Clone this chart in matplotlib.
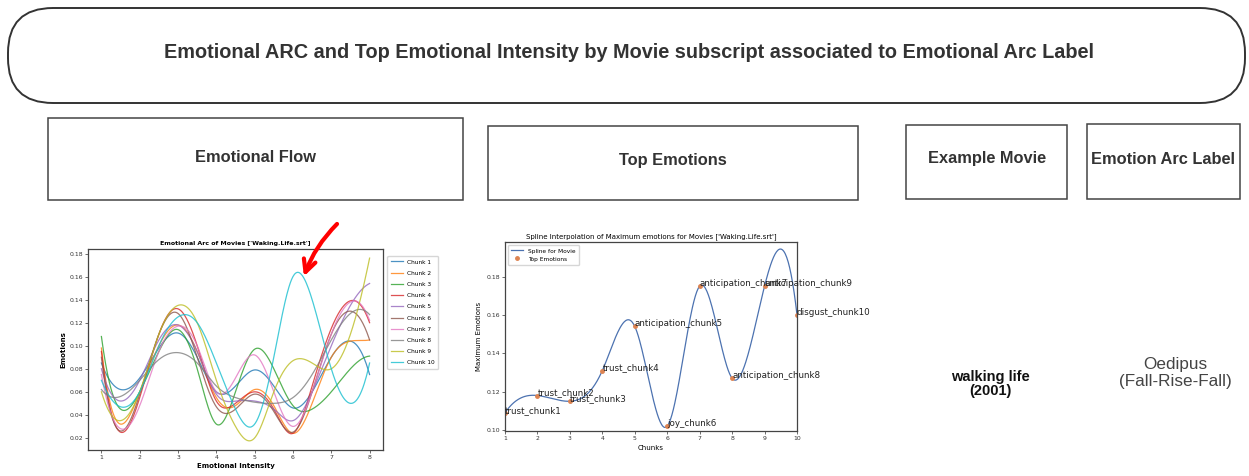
import numpy as np
import matplotlib.pyplot as plt
from matplotlib.patches import FancyBboxPatch, Rectangle

# ---- data: emotional arc per chunk, read at half steps of intensity ----
intensity = np.arange(1, 8.5, 0.5)
chunk_labels = [f"Chunk {i}" for i in range(1, 11)]
chunk1 = [0.085, 0.062, 0.072, 0.098, 0.111, 0.090, 0.060, 0.065, 0.079, 0.065, 0.046, 0.060, 0.090, 0.104, 0.075]
chunk2 = [0.098, 0.032, 0.060, 0.100, 0.118, 0.095, 0.055, 0.048, 0.062, 0.048, 0.024, 0.050, 0.090, 0.104, 0.105]
chunk3 = [0.108, 0.045, 0.060, 0.095, 0.114, 0.080, 0.032, 0.060, 0.097, 0.080, 0.048, 0.045, 0.060, 0.080, 0.091]
chunk4 = [0.095, 0.025, 0.055, 0.110, 0.132, 0.100, 0.052, 0.050, 0.060, 0.045, 0.024, 0.065, 0.115, 0.139, 0.120]
chunk5 = [0.080, 0.052, 0.070, 0.105, 0.118, 0.095, 0.058, 0.052, 0.052, 0.045, 0.035, 0.060, 0.100, 0.135, 0.154]
chunk6 = [0.090, 0.026, 0.058, 0.110, 0.128, 0.090, 0.047, 0.045, 0.058, 0.043, 0.025, 0.060, 0.110, 0.130, 0.105]
chunk7 = [0.075, 0.028, 0.048, 0.095, 0.117, 0.100, 0.060, 0.072, 0.092, 0.060, 0.030, 0.060, 0.110, 0.138, 0.122]
chunk8 = [0.062, 0.056, 0.070, 0.088, 0.094, 0.085, 0.065, 0.055, 0.051, 0.050, 0.055, 0.075, 0.105, 0.128, 0.127]
chunk9 = [0.060, 0.035, 0.060, 0.110, 0.135, 0.120, 0.070, 0.030, 0.020, 0.060, 0.087, 0.085, 0.080, 0.110, 0.176]
chunk10 = [0.070, 0.047, 0.060, 0.100, 0.125, 0.120, 0.085, 0.045, 0.032, 0.090, 0.160, 0.140, 0.080, 0.050, 0.085]
arcs = [chunk1, chunk2, chunk3, chunk4, chunk5, chunk6, chunk7, chunk8, chunk9, chunk10]

# ---- data: top emotion per chunk ----
chunks = np.arange(1, 11)
top_values = [0.109, 0.118, 0.115, 0.131, 0.154, 0.102, 0.175, 0.127, 0.175, 0.160]
top_names = ['trust', 'trust', 'trust', 'trust', 'anticipation', 'joy',
             'anticipation', 'anticipation', 'anticipation', 'disgust']

W, H = 1249, 476


def spline(x, y, num=400):
    # cubic spline with not-a-knot ends (like scipy make_interp_spline)
    x = np.asarray(x, float)
    y = np.asarray(y, float)
    n = len(x)
    h = np.diff(x)
    A = np.zeros((n, n))
    b = np.zeros(n)
    A[0, :3] = [h[1], -(h[0] + h[1]), h[0]]
    A[-1, -3:] = [h[-1], -(h[-2] + h[-1]), h[-2]]
    for i in range(1, n - 1):
        A[i, i - 1:i + 2] = [h[i - 1], 2 * (h[i - 1] + h[i]), h[i]]
        b[i] = 6 * ((y[i + 1] - y[i]) / h[i] - (y[i] - y[i - 1]) / h[i - 1])
    M = np.linalg.solve(A, b)
    xs = np.linspace(x[0], x[-1], num)
    k = np.clip(np.searchsorted(x, xs) - 1, 0, n - 2)
    x0, x1, hk = x[k], x[k + 1], h[k]
    ys = (M[k] * (x1 - xs) ** 3 + M[k + 1] * (xs - x0) ** 3) / (6 * hk) \
        + (y[k] / hk - M[k] * hk / 6) * (x1 - xs) \
        + (y[k + 1] / hk - M[k + 1] * hk / 6) * (xs - x0)
    return xs, ys


def px_axes(fig, x0, y0, x1, y1):
    return fig.add_axes([x0 / W, 1 - y1 / H, (x1 - x0) / W, (y1 - y0) / H])


fig = plt.figure(figsize=(W / 100, H / 100), dpi=100)

# ---- left plot: emotional arc ----
ax1 = px_axes(fig, 88, 249, 383, 450)
for vals, lab in zip(arcs, chunk_labels):
    xs, ys = spline(intensity, vals)
    ax1.plot(xs, ys, lw=0.9, alpha=0.8, label=lab)
ax1.set_title("Emotional Arc of Movies ['Waking.Life.srt']", fontsize=4.5, fontweight='bold', pad=3)
ax1.set_xlabel('Emotional Intensity', fontsize=5, fontweight='bold', labelpad=2)
ax1.set_ylabel('Emotions', fontsize=5, fontweight='bold', labelpad=2)
ax1.set_xticks(range(1, 9))
ax1.set_yticks(np.arange(0.02, 0.181, 0.02))
ax1.tick_params(labelsize=4.4, length=2, width=0.5, pad=1.5, colors='#333333')
for s in ax1.spines.values():
    s.set_color('#444444')
    s.set_linewidth(0.9)
ax1.legend(loc='upper left', bbox_to_anchor=(1.005, 0.98), fontsize=4.2, frameon=True,
           handlelength=2, borderpad=0.6, labelspacing=1.05)

# ---- middle plot: top emotions ----
ax2 = px_axes(fig, 505, 242, 797, 431)
xs, ys = spline(chunks, top_values)
ax2.plot(xs, ys, lw=0.9, color='#4c72b0', label='Spline for Movie')
ax2.plot(chunks, top_values, 'o', ms=2.5, color='#dd8452', label='Top Emotions')
for c, v, name in zip(chunks, top_values, top_names):
    ax2.annotate(f"{name}_chunk{c}", (c, v), fontsize=6.3, color='#222222', zorder=5)
ax2.set_xlim(1, 10)
ax2.set_ylim(0.0995, 0.198)
ax2.set_xticks(range(1, 11))
ax2.set_yticks(np.arange(0.10, 0.181, 0.02))
ax2.set_title("Spline Interpolation of Maximum emotions for Movies ['Waking.Life.srt']", fontsize=5, pad=3)
ax2.set_xlabel('Chunks', fontsize=5, labelpad=3)
ax2.set_ylabel('Maximum Emotions', fontsize=5, labelpad=3)
ax2.tick_params(labelsize=4.4, length=2, width=0.5, pad=1.5, colors='#333333')
for s in ax2.spines.values():
    s.set_color('#444444')
    s.set_linewidth(0.9)
ax2.legend(loc='upper left', fontsize=4.2, frameon=True, handlelength=2, borderpad=0.6)

# ---- overlay: boxes, headings, notes ----
ov = fig.add_axes([0, 0, 1, 1], zorder=10)
ov.set_xlim(0, W)
ov.set_ylim(H, 0)
ov.axis('off')

font = ['Liberation Sans', 'DejaVu Sans']
head_color = '#333333'

ov.add_patch(FancyBboxPatch((8, 8), 1237, 95, boxstyle='round,pad=0,rounding_size=45',
                            fc='none', ec='#333333', lw=1.4))
ov.text(629, 52, 'Emotional ARC and Top Emotional Intensity by Movie subscript associated to Emotional Arc Label',
        ha='center', va='center', fontsize=14.3, fontweight='bold', family=font, color=head_color)

boxes = [(48, 118, 463, 200, 'Emotional Flow', 256, 157),
         (488, 126, 858, 200, 'Top Emotions', 673, 161),
         (906, 125, 1067, 199, 'Example Movie', 987, 159),
         (1087, 124, 1240, 199, 'Emotion Arc Label', 1163, 159)]
for x0, y0, x1, y1, label, tx, ty in boxes:
    ov.add_patch(Rectangle((x0, y0), x1 - x0, y1 - y0, fc='none', ec='#444444', lw=1.1))
    ov.text(tx, ty, label, ha='center', va='center', fontsize=11.8, fontweight='bold',
            family=font, color=head_color)

ov.text(990, 384, 'walking life\n(2001)', ha='center', va='center', fontsize=10.5,
        fontweight='bold', family=font, color='#111111', linespacing=1.05)
ov.text(1175, 373, 'Oedipus\n(Fall-Rise-Fall)', ha='center', va='center', fontsize=12.3,
        family=font, color='#444444', linespacing=1.1)

# hand drawn red arrow pointing at the chunk 10 peak
ov.annotate('', xy=(303, 279), xytext=(339, 222),
            arrowprops=dict(arrowstyle='->', color='red', lw=3, mutation_scale=22,
                            connectionstyle='arc3,rad=0.12'))

fig.savefig('out.png', dpi=100)
